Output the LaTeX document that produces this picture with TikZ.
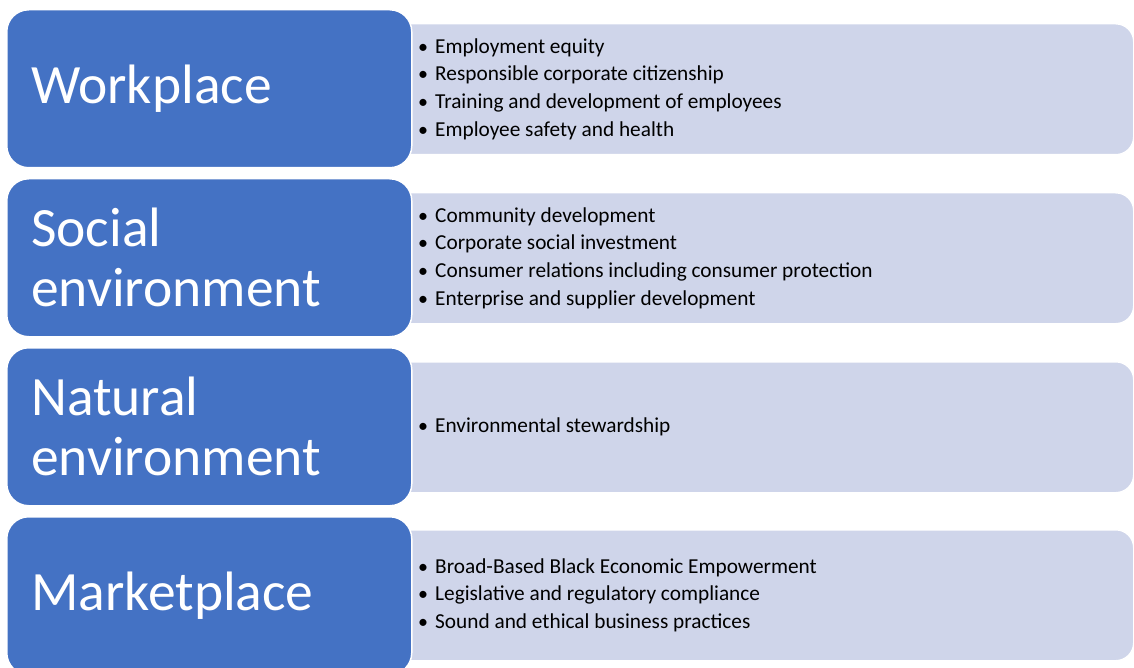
\documentclass[tikz,border=0pt]{standalone}
\usepackage{fontspec}
\setmainfont{Carlito}
\definecolor{boxblue}{HTML}{4472C4}
\definecolor{panelblue}{HTML}{CFD5EA}
\newcommand{\bulletline}[1]{\makebox[12pt][c]{\fontsize{20}{20}\selectfont•}\hspace{6pt}#1}
\begin{document}
\begin{tikzpicture}[x=1pt,y=-1pt,
  bluebox/.style={draw=white, line width=1.5pt, fill=boxblue, rounded corners=22pt,
    anchor=north west, minimum width=405pt, minimum height=158pt, inner sep=0pt},
  panel/.style={draw=white, line width=1.5pt, fill=panelblue, rounded corners=18pt,
    anchor=north west, minimum width=800pt, minimum height=131pt, inner sep=0pt},
  title/.style={anchor=west, text=white, align=left, inner sep=0pt,
    font=\fontsize{55.5}{60}\selectfont},
  items/.style={anchor=west, text=black, align=left, inner sep=0pt,
    font=\fontsize{21.3}{27.6}\selectfont}]
\useasboundingbox (0,0) rectangle (1134,668);
\clip (0,0) rectangle (1134,668);

% light panels sit behind the blue headers
\node[panel] (p1) at (333,23) {};
\node[panel] (p2) at (333,192) {};
\node[panel] (p3) at (333,361) {};
\node[panel] (p4) at (333,529) {};

% blue header boxes
\node[bluebox] (b1) at (6,9) {};
\node[bluebox] (b2) at (6,178) {};
\node[bluebox] (b3) at (6,347) {};
\node[bluebox] (b4) at (6,516) {};

% header titles
\node[title] (t1) at (31,89) {Workplace};
\node[title] (t2) at (31,257) {Social\\environment};
\node[title] (t3) at (31,426) {Natural\\environment};
\node[title] (t4) at (31,596) {Marketplace};

% bullet lists
\node[items] (l1) at (417,89) {\bulletline{Employment equity}\\
  \bulletline{Responsible corporate citizenship}\\
  \bulletline{Training and development of employees}\\
  \bulletline{Employee safety and health}};
\node[items] (l2) at (417,258) {\bulletline{Community development}\\
  \bulletline{Corporate social investment}\\
  \bulletline{Consumer relations including consumer protection}\\
  \bulletline{Enterprise and supplier development}};
\node[items] (l3) at (417,427) {\bulletline{Environmental stewardship}};
\node[items] (l4) at (417,595) {\bulletline{Broad-Based Black Economic Empowerment}\\
  \bulletline{Legislative and regulatory compliance}\\
  \bulletline{Sound and ethical business practices}};
\end{tikzpicture}
\end{document}
